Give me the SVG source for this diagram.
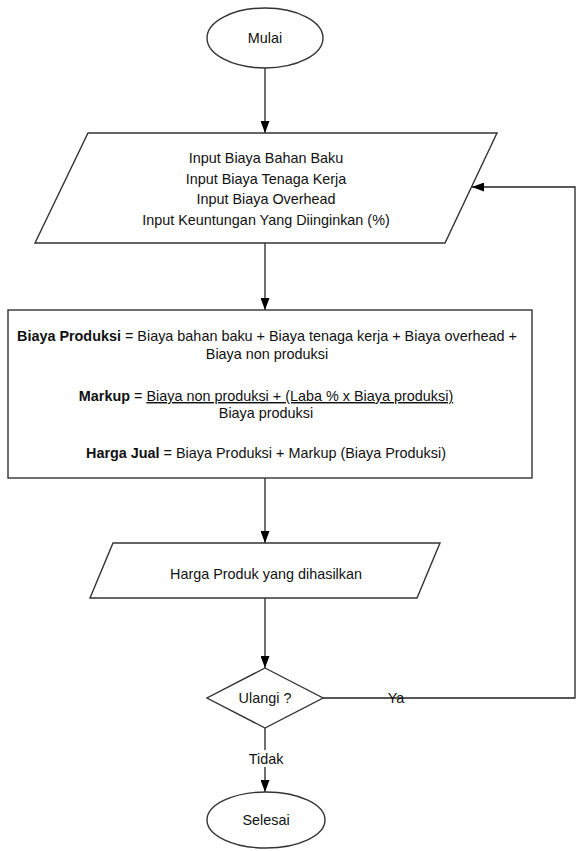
<svg xmlns="http://www.w3.org/2000/svg" width="576" height="851" viewBox="0 0 576 851">
<defs>
<style>
.shape{fill:#fff;stroke:#333;stroke-width:1.4}
.conn{fill:none;stroke:#222;stroke-width:1.3}
text{font-family:"Liberation Sans",Arial,sans-serif;font-size:14.4px;fill:#111;text-anchor:middle}
.b{font-weight:bold}
</style>
<marker id="arr" viewBox="0 0 12 9" refX="12" refY="4.5" markerWidth="12" markerHeight="9" markerUnits="userSpaceOnUse" orient="auto">
<path d="M0,0 L12,4.5 L0,9 z" fill="#000"/>
</marker>
</defs>
<rect width="576" height="851" fill="#fff"/>
<g id="connectors">
<path class="conn" d="M265,68 V133" marker-end="url(#arr)"/>
<path class="conn" d="M265,243 V310" marker-end="url(#arr)"/>
<path class="conn" d="M265,478 V543" marker-end="url(#arr)"/>
<path class="conn" d="M265,598 V668" marker-end="url(#arr)"/>
<path class="conn" d="M323,698 H575 V187 H472" marker-end="url(#arr)"/>
<path class="conn" d="M265,728 V792" marker-end="url(#arr)"/>
<rect x="243" y="750" width="44" height="17" fill="#fff"/>
<text x="266" y="764">Tidak</text>
<text x="396" y="703">Ya</text>
</g>
<g id="mulai">
<ellipse class="shape" cx="265" cy="38" rx="58" ry="30"/>
<text x="265" y="43">Mulai</text>
</g>
<g id="input">
<polygon class="shape" points="88,133 497,133 445,243 35,243"/>
<text x="266" y="163">Input Biaya Bahan Baku</text>
<text x="266" y="184">Input Biaya Tenaga Kerja</text>
<text x="266" y="204">Input Biaya Overhead</text>
<text x="266" y="225">Input Keuntungan Yang Diinginkan (%)</text>
</g>
<g id="proses">
<rect class="shape" x="8" y="310" width="524" height="168"/>
<text x="267" y="341"><tspan class="b">Biaya Produksi</tspan> = Biaya bahan baku + Biaya tenaga kerja + Biaya overhead +</text>
<text x="267" y="359">Biaya non produksi</text>
<text x="266" y="401"><tspan class="b">Markup</tspan> = <tspan text-decoration="underline">Biaya non produksi + (Laba % x Biaya produksi)</tspan></text>
<text x="266" y="418">Biaya produksi</text>
<text x="266" y="458"><tspan class="b">Harga Jual</tspan> = Biaya Produksi + Markup (Biaya Produksi)</text>
</g>
<g id="output">
<polygon class="shape" points="113,543 440,543 417,598 90,598"/>
<text x="266" y="579">Harga Produk yang dihasilkan</text>
</g>
<g id="ulangi">
<polygon class="shape" points="265,668 323,698 265,728 207,698"/>
<text x="265" y="703">Ulangi ?</text>
</g>
<g id="selesai">
<ellipse class="shape" cx="266" cy="820" rx="59" ry="28"/>
<text x="266" y="825">Selesai</text>
</g>
</svg>
